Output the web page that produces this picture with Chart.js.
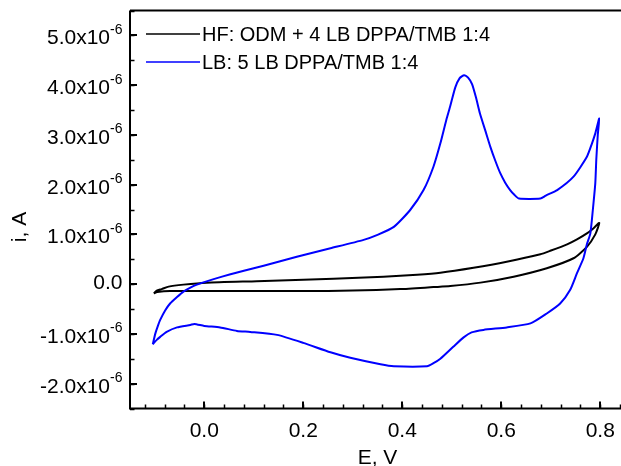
<!DOCTYPE html>
<html>
<head>
<meta charset="utf-8">
<script src="https://cdn.jsdelivr.net/npm/chart.js@4/dist/chart.umd.min.js"></script>
<style>
  html, body { margin: 0; padding: 0; overflow: hidden; background: #fff; }
  canvas { display: block; }
</style>
</head>
<body>
<canvas id="grafica" width="626" height="466"></canvas>
<script>
// valores: E en V, i en unidades de 1e-6 A
const eBlack = [-0.102, -0.096, -0.086, -0.072, -0.042, 0.005, 0.106, 0.2, 0.261, 0.362, 0.43, 0.477,
  0.544, 0.611, 0.679, 0.699, 0.733, 0.753, 0.773, 0.786, 0.798,
  0.79, 0.773, 0.746, 0.692, 0.625, 0.558, 0.497, 0.463, 0.396, 0.3, 0.2, 0.093, -0.069, -0.095, -0.102];
const iBlack = [-0.185, -0.13, -0.10, -0.05, -0.01, 0.03, 0.06, 0.09, 0.11, 0.15, 0.19, 0.23,
  0.33, 0.45, 0.60, 0.67, 0.80, 0.90, 1.02, 1.12, 1.23,
  1.00, 0.75, 0.52, 0.32, 0.15, 0.03, -0.04, -0.06, -0.10, -0.13, -0.14, -0.14, -0.14, -0.16, -0.185];

const eBlue = [-0.104, -0.099, -0.094, -0.089, -0.079, -0.069, -0.055, -0.042, -0.028, -0.015, 0.0, 0.019,
  0.053, 0.08, 0.12, 0.187, 0.255, 0.322, 0.35, 0.383, 0.416, 0.443, 0.463, 0.477, 0.489, 0.497,
  0.507, 0.516, 0.525, 0.533, 0.541, 0.549, 0.557, 0.568, 0.578, 0.588, 0.598, 0.608, 0.618, 0.627,
  0.636, 0.679, 0.69, 0.713, 0.746, 0.773, 0.783, 0.79, 0.798,
  0.795, 0.792, 0.79, 0.785, 0.78, 0.773, 0.766, 0.753, 0.739, 0.719, 0.692, 0.659, 0.611, 0.564,
  0.54, 0.524, 0.503, 0.477, 0.463, 0.45, 0.383, 0.356, 0.295, 0.255, 0.2, 0.147, 0.093, 0.066,
  0.032, 0.0, -0.02, -0.028, -0.055, -0.076, -0.089, -0.096, -0.104];
const iBlue = [-1.21, -1.0, -0.85, -0.72, -0.53, -0.39, -0.26, -0.15, -0.07, -0.01, 0.04, 0.10,
  0.20, 0.27, 0.37, 0.55, 0.72, 0.89, 0.99, 1.15, 1.49, 1.89, 2.36, 2.83, 3.30, 3.58,
  3.95, 4.14, 4.20, 4.15, 4.02, 3.75, 3.43, 3.08, 2.76, 2.48, 2.23, 2.04, 1.89, 1.79,
  1.72, 1.72, 1.78, 1.89, 2.16, 2.56, 2.82, 3.03, 3.33,
  3.0, 2.5, 2.03, 1.49, 1.02, 0.80, 0.52, 0.22, -0.12, -0.39, -0.59, -0.79, -0.87, -0.92,
  -0.97, -1.07, -1.26, -1.50, -1.59, -1.65, -1.65, -1.61, -1.48, -1.37, -1.18, -1.02, -0.96, -0.94,
  -0.87, -0.84, -0.80, -0.82, -0.87, -0.96, -1.06, -1.12, -1.21];

const nombresSeries = ['HF: ODM + 4 LB DPPA/TMB 1:4', 'LB: 5 LB DPPA/TMB 1:4'];
const coloresSeries = ['#000000', '#0000ff'];
const xTicks = [0.0, 0.2, 0.4, 0.6, 0.8];
const yTicks = [-2, -1, 0, 1, 2, 3, 4, 5];
const xPasoMenor = 0.04;
const yPasoMenor = 0.5;

const FUENTE = '"Liberation Sans", Arial, sans-serif';

const aPuntos = (xs, ys) => xs.map((x, k) => ({ x: x, y: ys[k] }));

// PLUGIN QUE DIBUJA EJES, MARCAS, ETIQUETAS Y LEYENDA COMO EN ORIGIN
const ejesOrigin = {
  id: 'ejesOrigin',
  afterDatasetsDraw(chart) {
    const ctx = chart.ctx;
    const area = chart.chartArea;
    const sx = chart.scales.x;
    const sy = chart.scales.y;
    ctx.save();
    ctx.strokeStyle = '#000';
    ctx.fillStyle = '#000';

    // marcas menores
    ctx.lineWidth = 1.5;
    ctx.beginPath();
    for (let k = Math.ceil(sx.min / xPasoMenor); k * xPasoMenor <= sx.max; k++) {
      const px = Math.round(sx.getPixelForValue(k * xPasoMenor)) + 0.5;
      ctx.moveTo(px, area.bottom);
      ctx.lineTo(px, area.bottom - 4);
    }
    for (let k = Math.ceil(sy.min / yPasoMenor); k * yPasoMenor <= sy.max; k++) {
      const py = Math.round(sy.getPixelForValue(k * yPasoMenor)) + 0.5;
      ctx.moveTo(area.left, py);
      ctx.lineTo(area.left + 4.5, py);
    }
    ctx.stroke();

    // marcas mayores
    ctx.lineWidth = 2;
    ctx.beginPath();
    xTicks.forEach((v) => {
      const px = Math.round(sx.getPixelForValue(v));
      ctx.moveTo(px, area.bottom);
      ctx.lineTo(px, area.bottom - 7);
    });
    yTicks.forEach((v) => {
      const py = Math.round(sy.getPixelForValue(v));
      ctx.moveTo(area.left, py);
      ctx.lineTo(area.left + 7, py);
    });
    ctx.stroke();

    // ejes y borde superior
    ctx.lineWidth = 2;
    ctx.beginPath();
    ctx.moveTo(area.left, area.top);
    ctx.lineTo(area.left, area.bottom);
    ctx.lineTo(area.right, area.bottom);
    ctx.moveTo(area.left, area.top);
    ctx.lineTo(area.right, area.top);
    ctx.stroke();

    // etiquetas eje x
    ctx.font = '21px ' + FUENTE;
    ctx.textAlign = 'center';
    ctx.textBaseline = 'alphabetic';
    xTicks.forEach((v) => {
      ctx.fillText(v.toFixed(1), sx.getPixelForValue(v), area.bottom + 28.5);
    });

    // etiquetas eje y con superindice
    const bordeDerecho = area.left - 7.5;
    yTicks.forEach((v) => {
      const py = sy.getPixelForValue(v);
      if (v === 0) {
        ctx.font = '21px ' + FUENTE;
        ctx.textAlign = 'right';
        ctx.fillText('0.0', bordeDerecho, py + 5);
        return;
      }
      ctx.font = '14px ' + FUENTE;
      ctx.textAlign = 'right';
      const sup = '-6';
      const anchoSup = ctx.measureText(sup).width;
      ctx.fillText(sup, bordeDerecho, py - 1.5);
      ctx.font = '21px ' + FUENTE;
      ctx.fillText(v.toFixed(1) + 'x10', bordeDerecho - anchoSup, py + 9);
    });

    // titulos de ejes
    ctx.font = '21px ' + FUENTE;
    ctx.textAlign = 'center';
    ctx.fillText('E, V', (area.left + area.right) / 2, 464);
    ctx.save();
    ctx.translate(26, 227);
    ctx.rotate(-Math.PI / 2);
    ctx.fillText('i, A', 0, 0);
    ctx.restore();

    // leyenda
    ctx.font = '20px ' + FUENTE;
    ctx.textAlign = 'left';
    nombresSeries.forEach((nombre, k) => {
      const py = 34 + k * 28;
      ctx.strokeStyle = coloresSeries[k];
      ctx.lineWidth = 1.5;
      ctx.beginPath();
      ctx.moveTo(146, py);
      ctx.lineTo(200, py);
      ctx.stroke();
      ctx.fillStyle = '#000';
      ctx.fillText(nombre, 202, py + 7.2);
    });

    ctx.restore();
  }
};

const config = {
  type: 'scatter',
  data: {
    datasets: [
      {
        label: nombresSeries[0],
        data: aPuntos(eBlack, iBlack),
        showLine: true,
        borderColor: coloresSeries[0],
        borderWidth: 2,
        pointRadius: 0,
        tension: 0.2,
        order: 1
      },
      {
        label: nombresSeries[1],
        data: aPuntos(eBlue, iBlue),
        showLine: true,
        borderColor: coloresSeries[1],
        borderWidth: 2,
        pointRadius: 0,
        tension: 0.2,
        order: 0
      }
    ]
  },
  options: {
    responsive: false,
    animation: false,
    devicePixelRatio: 1,
    layout: { padding: { left: 130, right: 1, top: 10.5, bottom: 57.5 } },
    plugins: { legend: { display: false }, tooltip: { enabled: false } },
    scales: {
      x: { type: 'linear', min: -0.15, max: 0.85, display: false },
      y: { type: 'linear', min: -2.5, max: 5.5, display: false }
    }
  },
  plugins: [ejesOrigin]
};

new Chart(document.getElementById('grafica'), config);
</script>
</body>
</html>
